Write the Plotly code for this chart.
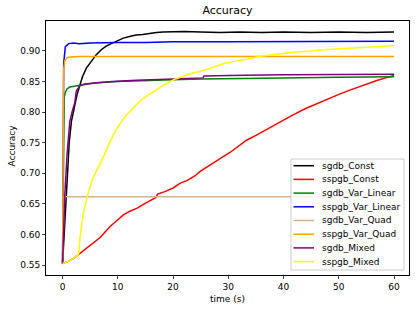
import plotly.graph_objects as go

# ---- data ----
names = ["sgdb_Const", "sspgb_Const", "sgdb_Var_Linear", "sspgb_Var_Linear",
         "sgdb_Var_Quad", "sspgb_Var_Quad", "sgdb_Mixed", "sspgb_Mixed"]
colors = ["black", "red", "green", "blue", "tan", "orange", "purple", "yellow"]

sgdb_const_t = [0, 0.4, 0.8, 1.2, 1.6, 1.9, 2.3, 2.6, 3.1, 3.6, 4.3, 5.2, 6.1, 7.0, 7.9, 8.8, 9.7,
                11, 12.3, 13.3, 14.5, 15.9, 17, 18.2, 20, 22, 25, 28.5, 32, 36, 40, 45, 50, 55, 60]
sgdb_const_v = [0.5525, 0.62, 0.69, 0.75, 0.785, 0.80, 0.815, 0.828, 0.845, 0.858, 0.872, 0.884,
                0.894, 0.902, 0.908, 0.912, 0.916, 0.921, 0.924, 0.926, 0.927, 0.929, 0.930, 0.931,
                0.932, 0.932, 0.931, 0.930, 0.931, 0.930, 0.931, 0.930, 0.931, 0.930, 0.931]

sspgb_const_t = [0, 1, 2, 2.9, 4, 5, 6, 6.8, 7.7, 8.6, 10, 11, 12.2, 13.5, 14.4, 15.5, 16.9, 17.2,
                 18.5, 20, 21.3, 22.5, 24, 24.9, 26.7, 28.5, 30.3, 32, 33.3, 35, 37, 39, 41.8, 44,
                 46, 47.8, 50, 52, 53.8, 55.5, 57, 58.5, 60]
sspgb_const_v = [0.5525, 0.556, 0.561, 0.5675, 0.575, 0.583, 0.589, 0.595, 0.604, 0.613, 0.624,
                 0.632, 0.638, 0.643, 0.648, 0.653, 0.6606, 0.666, 0.670, 0.676, 0.684, 0.688,
                 0.696, 0.703, 0.714, 0.724, 0.734, 0.745, 0.754, 0.762, 0.772, 0.783, 0.796,
                 0.806, 0.814, 0.821, 0.829, 0.836, 0.842, 0.848, 0.852, 0.856, 0.860]

sgdb_lin_t = [0, 0.15, 0.3, 0.5, 0.8, 1.3, 2, 2.6, 4, 6, 10, 15, 20, 25, 30, 40, 50, 60]
sgdb_lin_v = [0.5525, 0.80, 0.825, 0.832, 0.838, 0.841, 0.842, 0.843, 0.846, 0.848, 0.850, 0.852,
              0.853, 0.854, 0.855, 0.856, 0.857, 0.858]

sspgb_lin_t = [0, 0.2, 0.5, 0.8, 1.1, 2, 3, 5, 8, 10, 15, 20, 30, 40, 50, 60]
sspgb_lin_v = [0.5525, 0.88, 0.907, 0.910, 0.912, 0.913, 0.912, 0.913, 0.914, 0.914, 0.914,
               0.915, 0.915, 0.915, 0.916, 0.916]

sgdb_quad_t = [0, 0.3, 60]
sgdb_quad_v = [0.5525, 0.6615, 0.6615]

sspgb_quad_t = [0, 0.2, 0.4, 0.8, 1.5, 3, 10, 60]
sspgb_quad_v = [0.5525, 0.87, 0.884, 0.889, 0.890, 0.891, 0.891, 0.891]

sgdb_mixed_t = [0, 0.2, 0.4, 0.8, 1.3, 1.7, 2.2, 2.5, 3.1, 4, 6.1, 9, 13.3, 18, 22, 25.4, 25.6,
                30, 40, 50, 60]
sgdb_mixed_v = [0.5525, 0.62, 0.664, 0.73, 0.784, 0.80, 0.815, 0.835, 0.843, 0.846, 0.848, 0.850,
                0.852, 0.854, 0.855, 0.856, 0.859, 0.860, 0.861, 0.862, 0.862]

sspgb_mixed_t = [0, 1, 2, 2.9, 3.2, 3.7, 4.2, 4.7, 5.4, 6.2, 6.7, 7.4, 8.2, 9.1, 10.3, 11.5, 12.2,
                 13.3, 14, 15.2, 16.5, 18.3, 20.1, 21.5, 23.1, 25.5, 27, 29.1, 31, 33.3, 35.7, 37,
                 39.5, 41.8, 45, 47.8, 51, 53.8, 57, 60]
sspgb_mixed_v = [0.5525, 0.556, 0.561, 0.5675, 0.599, 0.632, 0.652, 0.670, 0.690, 0.706, 0.713,
                 0.727, 0.745, 0.762, 0.780, 0.795, 0.801, 0.811, 0.818, 0.826, 0.834, 0.844,
                 0.853, 0.857, 0.8626, 0.868, 0.873, 0.879, 0.883, 0.8865, 0.8915, 0.893, 0.896,
                 0.898, 0.900, 0.9026, 0.904, 0.905, 0.907, 0.909]

series_t = [sgdb_const_t, sspgb_const_t, sgdb_lin_t, sspgb_lin_t,
            sgdb_quad_t, sspgb_quad_t, sgdb_mixed_t, sspgb_mixed_t]
series_v = [sgdb_const_v, sspgb_const_v, sgdb_lin_v, sspgb_lin_v,
            sgdb_quad_v, sspgb_quad_v, sgdb_mixed_v, sspgb_mixed_v]

x_ticks = [0, 10, 20, 30, 40, 50, 60]
y_ticks = [0.55, 0.60, 0.65, 0.70, 0.75, 0.80, 0.85, 0.90]

# ---- layout geometry (pixels) ----
W, H = 416, 310
L, R, T, B = 46, 7, 21, 35
PW, PH = W - L - R, H - T - B


def px(x):
    return (x - L) / PW


def py(y):
    return (H - B - y) / PH


fig = go.Figure()
for name, col, t, v in zip(names, colors, series_t, series_v):
    fig.add_trace(go.Scatter(x=t, y=v, mode="lines", name=name,
                             line=dict(color=col, width=1.5), showlegend=False))

font = "DejaVu Sans, sans-serif"

# manual legend (matplotlib-style compact spacing)
shapes = [dict(type="rect", xref="paper", yref="paper",
               x0=px(291), x1=px(404), y0=py(270), y1=py(159),
               line=dict(color="#cccccc", width=1), fillcolor="rgba(255,255,255,0.8)",
               layer="above")]
annotations = []
leg_top = 165.7
leg_step = 13.7
for i, (name, col) in enumerate(zip(names, colors)):
    yy = leg_top + i * leg_step
    shapes.append(dict(type="line", xref="paper", yref="paper",
                       x0=px(293.5), x1=px(314), y0=py(yy), y1=py(yy),
                       line=dict(color=col, width=1.5), layer="above"))
    annotations.append(dict(text=name, xref="paper", yref="paper", x=px(320), y=py(yy),
                            xanchor="left", yanchor="middle", showarrow=False,
                            font=dict(size=9, family=font, color="black")))

annotations.append(dict(text="time (s)", xref="paper", yref="paper", x=0.5, y=py(299),
                        xanchor="center", yanchor="middle", showarrow=False,
                        font=dict(size=9, family=font)))
annotations.append(dict(text="Accuracy", xref="paper", yref="paper", x=px(11.5), y=py(146),
                        xanchor="center", yanchor="middle", showarrow=False, textangle=-90,
                        font=dict(size=9, family=font)))

fig.update_layout(
    width=W, height=H,
    margin=dict(l=L, r=R, t=T, b=B, autoexpand=False),
    paper_bgcolor="white", plot_bgcolor="white",
    font=dict(family=font, size=9, color="black"),
    title=dict(text="Accuracy", x=0.5, xref="paper", xanchor="center",
               y=1 - 10 / H, yref="container", yanchor="middle", font=dict(size=11)),
    showlegend=False,
    shapes=shapes,
    annotations=annotations,
)
fig.update_xaxes(range=[-3, 62.7], tickvals=x_ticks, ticks="outside", ticklen=3,
                 showgrid=False, zeroline=False, showline=True, linecolor="black",
                 linewidth=0.8, mirror=True, automargin=False)
fig.update_yaxes(range=[0.5337, 0.949], tickvals=y_ticks, tickformat=".2f", ticks="outside",
                 ticklen=3, showgrid=False, zeroline=False, showline=True, linecolor="black",
                 linewidth=0.8, mirror=True, automargin=False)

fig.write_html("out.html", config={"displayModeBar": False},
               post_script="document.body.style.margin='0';document.body.style.padding='0';")
